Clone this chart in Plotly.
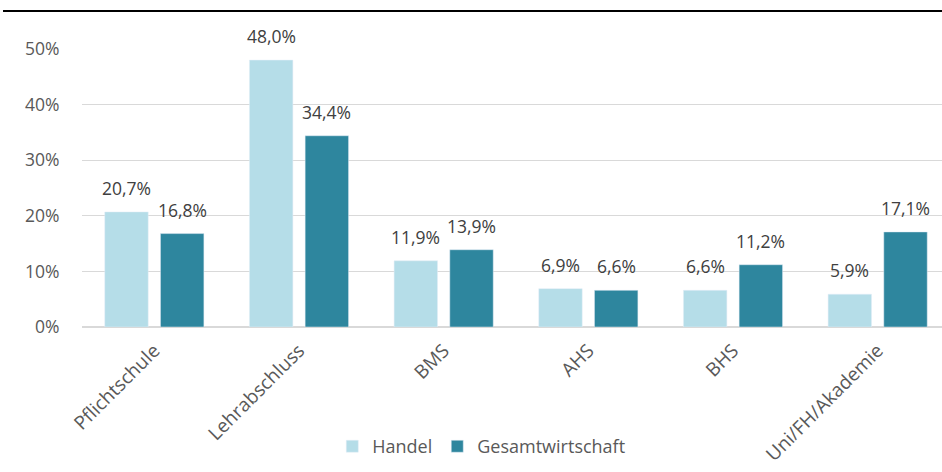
import plotly.graph_objects as go

categories = ["Pflichtschule", "Lehrabschluss", "BMS", "AHS", "BHS", "Uni/FH/Akademie"]
handel = [0.207, 0.480, 0.119, 0.069, 0.066, 0.059]
gesamt = [0.168, 0.344, 0.139, 0.066, 0.112, 0.171]
y_ticks = [0, 0.1, 0.2, 0.3, 0.4, 0.5]

font_family = "Open Sans, sans-serif"
label_font = dict(size=17.5, color="#404040", family=font_family)

fig = go.Figure()
fig.add_bar(name="Handel", x=categories, y=handel, marker_color="#B5DDE8")
fig.add_bar(name="Gesamtwirtschaft", x=categories, y=gesamt, marker_color="#2E869E")

annotations = []
for series, shift in ((handel, -27.85), (gesamt, 27.85)):
    for c, v in zip(categories, series):
        annotations.append(dict(x=c, y=v, xref="x", yref="y", text=f"{v*100:.1f}%".replace(".", ","),
                                showarrow=False, xshift=shift, yshift=10, yanchor="bottom",
                                font=label_font))

fig.update_layout(
    width=950, height=472,
    margin=dict(l=82, r=0, t=49, b=145, autoexpand=False),
    plot_bgcolor="white", paper_bgcolor="white",
    separators=",.",
    barmode="group", bargap=0.23, bargroupgap=0.22,
    font=dict(family=font_family, size=17, color="#595959"),
    showlegend=True,
    legend=dict(orientation="h", x=0.46, xanchor="center", y=-0.43, yanchor="middle",
                font=dict(size=18, color="#595959"), traceorder="normal"),
    annotations=annotations,
    shapes=[dict(type="line", xref="paper", yref="paper", x0=-0.091, x1=1.0,
                 y0=1.137, y1=1.137, line=dict(color="black", width=2))],
)
fig.update_yaxes(range=[0, 0.5], tickvals=y_ticks, tickformat=".0%",
                 showgrid=True, gridcolor="#D9D9D9", gridwidth=1,
                 zeroline=True, zerolinecolor="#D9D9D9", showline=False,
                 ticks="outside", ticklen=18, tickcolor="rgba(0,0,0,0)",
                 tickfont=dict(size=17.5, color="#595959"))
fig.update_xaxes(tickangle=-45, showline=True, linecolor="#D9D9D9",
                 ticks="outside", ticklen=4, tickcolor="rgba(0,0,0,0)",
                 tickfont=dict(size=19, color="#595959"))

fig.write_html("out.html", config={"displayModeBar": False},
               post_script="document.body.style.margin='0';")
